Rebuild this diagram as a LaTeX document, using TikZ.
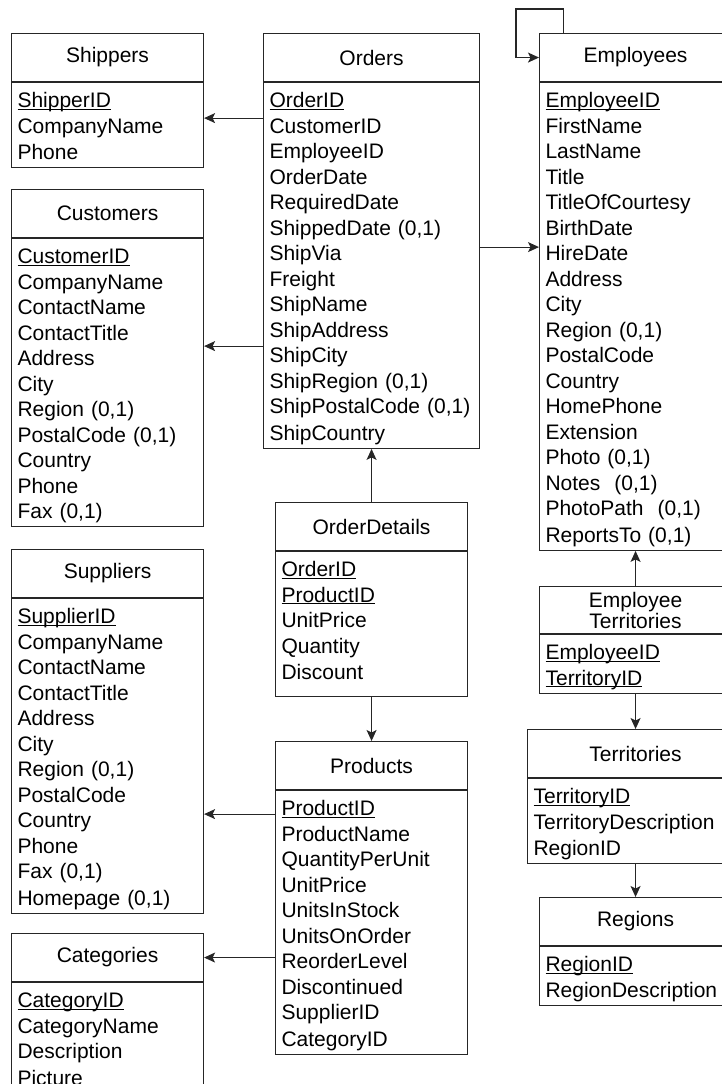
\documentclass[tikz,border=0pt]{standalone}
\usepackage{fontspec}
\setmainfont{Liberation Sans}
\usetikzlibrary{arrows.meta,positioning}

\newcommand{\rowstrut}{\rule[-4.25pt]{0pt}{25.5pt}}
\newcommand{\pkey}[1]{\underline{\smash{#1}}}

\begin{document}
\begin{tikzpicture}[x=1pt, y=-1pt,
    every node/.style={font=\fontsize{21pt}{25.5pt}\selectfont},
    tabhead/.style={draw=black!85, line width=1.1pt, anchor=north west, minimum width=#1, minimum height=48pt, inner sep=0pt, align=center},
    tabbody/.style={draw=black!85, line width=1.1pt, text width=#1, inner xsep=6pt, inner ysep=3.75pt, align=left, execute at begin node=\rowstrut, execute at end node=\rowstrut},
    fk/.style={-{Stealth[length=11pt,width=10pt,inset=2.5pt]}, draw=black!85, line width=1.1pt}]
    \useasboundingbox (0,0) rectangle (722,1084);

    % left column
    \node[tabhead=192pt] (shipH) at (11,33) {Shippers};
    \node[tabbody=180pt, below=0pt of shipH] (shipB) {\pkey{ShipperID}\\CompanyName\\Phone};

    \node[tabhead=192pt] (custH) at (11,189) {Customers};
    \node[tabbody=180pt, below=0pt of custH] (custB) {\pkey{CustomerID}\\CompanyName\\ContactName\\ContactTitle\\Address\\City\\Region (0,1)\\PostalCode (0,1)\\Country\\Phone\\Fax (0,1)};

    \node[tabhead=192pt] (supH) at (11,549) {Suppliers};
    \node[tabbody=180pt, below=0pt of supH] (supB) {\pkey{SupplierID}\\CompanyName\\ContactName\\ContactTitle\\Address\\City\\Region (0,1)\\PostalCode\\Country\\Phone\\Fax (0,1)\\Homepage (0,1)};

    \node[tabhead=192pt] (catH) at (11,933) {Categories};
    \node[tabbody=180pt, below=0pt of catH] (catB) {\pkey{CategoryID}\\CategoryName\\Description\\Picture};

    % middle column
    \node[tabhead=216pt] (ordH) at (263,33) {Orders};
    \node[tabbody=204pt, below=0pt of ordH] (ordB) {\pkey{OrderID}\\CustomerID\\EmployeeID\\OrderDate\\RequiredDate\\ShippedDate (0,1)\\ShipVia\\Freight\\ShipName\\ShipAddress\\ShipCity\\ShipRegion (0,1)\\ShipPostalCode (0,1)\\ShipCountry};

    \node[tabhead=192pt] (odH) at (275,502) {OrderDetails};
    \node[tabbody=180pt, below=0pt of odH] (odB) {\pkey{OrderID}\\\pkey{ProductID}\\UnitPrice\\Quantity\\Discount\rule[-13.25pt]{0pt}{13.25pt}};

    \node[tabhead=192pt] (prodH) at (275,741) {Products};
    \node[tabbody=180pt, below=0pt of prodH] (prodB) {\pkey{ProductID}\\ProductName\\QuantityPerUnit\\UnitPrice\\UnitsInStock\\UnitsOnOrder\\ReorderLevel\\Discontinued\\SupplierID\\CategoryID};

    % right column
    \node[tabhead=192pt] (empH) at (539,33) {Employees};
    \node[tabbody=180pt, below=0pt of empH] (empB) {\pkey{EmployeeID}\\FirstName\\LastName\\Title\\TitleOfCourtesy\\BirthDate\\HireDate\\Address\\City\\Region (0,1)\\PostalCode\\Country\\HomePhone\\Extension\\Photo (0,1)\\Notes\ \ (0,1)\\PhotoPath\ \ (0,1)\\ReportsTo (0,1)};

    \node[tabhead=192pt, minimum height=47pt, font=\fontsize{21pt}{21pt}\selectfont] (etH) at (539,586) {Employee\\Territories};
    \node[tabbody=180pt, below=0pt of etH] (etB) {\pkey{EmployeeID}\\\pkey{TerritoryID}};

    \node[tabhead=216pt] (terH) at (527,729) {Territories};
    \node[tabbody=204pt, below=0pt of terH] (terB) {\pkey{TerritoryID}\\TerritoryDescription\\RegionID};

    \node[tabhead=192pt] (regH) at (539,897) {Regions};
    \node[tabbody=180pt, below=0pt of regH] (regB) {\pkey{RegionID}\\RegionDescription};

    % references
    \draw[fk] ([yshift=-36pt]shipB.north -| ordB.west) -- ([yshift=-36pt]shipB.north east);
    \draw[fk] ([yshift=-108pt]custB.north -| ordB.west) -- ([yshift=-108pt]custB.north east);
    \draw[fk] ([yshift=-165pt]empB.north -| ordB.east) -- ([yshift=-165pt]empB.north west);
    \draw[fk] ([xshift=-72pt]empH.north) -- ++(0pt,24pt) -| ([xshift=-23pt]empH.west) -- (empH.west);
    \draw[fk] (odH.north) -- (ordB.south);
    \draw[fk] (odB.south) -- (prodH.north);
    \draw[fk] ([yshift=-24pt]prodB.north west) -- ([yshift=-24pt]prodB.north -| supB.east);
    \draw[fk] (prodB.west |- catH.east) -- (catH.east);
    \draw[fk] (etH.north) -- (empB.south);
    \draw[fk] (etB.south) -- (terH.north);
    \draw[fk] (terB.south) -- (regH.north);
\end{tikzpicture}
\end{document}
